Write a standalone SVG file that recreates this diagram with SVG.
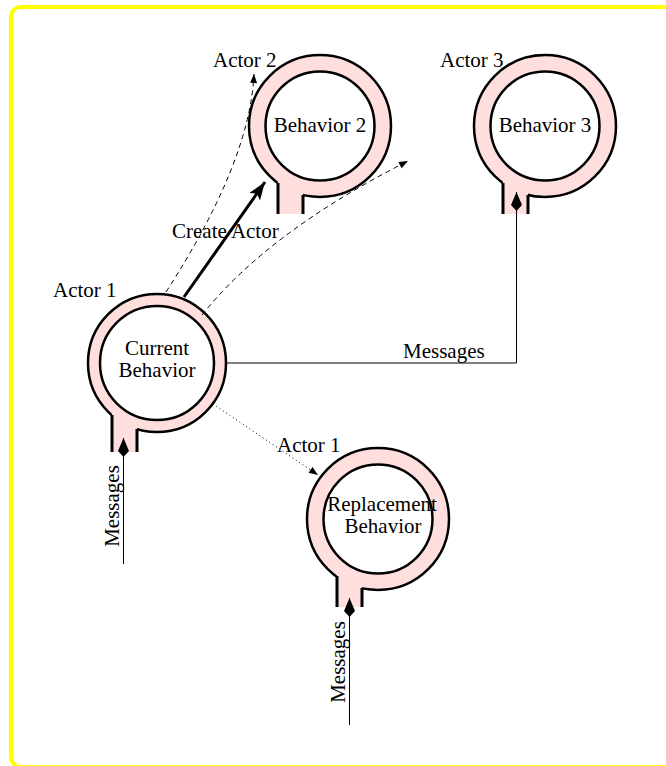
<svg xmlns="http://www.w3.org/2000/svg" width="666" height="766" viewBox="0 0 666 766">
  <style>
    .ring { fill: #ffdede; stroke: #000; stroke-width: 2.5; }
    .core { fill: #fff; stroke: #000; stroke-width: 2.5; }
    .stem { fill: #ffdede; stroke: none; }
    .side { stroke: #000; stroke-width: 3; fill: none; }
    .lbl { font-family: "Liberation Serif", "Times New Roman", serif; font-size: 21px; fill: #000; }
    .mid { text-anchor: middle; }
    .msg { fill: none; stroke: #000; stroke-width: 1; }
    .dash { fill: none; stroke: #000; stroke-width: 1; stroke-dasharray: 5 4; }
    .dot { fill: none; stroke: #000; stroke-width: 1; stroke-dasharray: 1 3; }
    .create { fill: none; stroke: #000; stroke-width: 3; }
  </style>
  <defs>
    <marker id="kite" markerUnits="userSpaceOnUse" markerWidth="24" markerHeight="14" viewBox="-20 -7 24 14" refX="0" refY="0" orient="auto">
      <path d="M0,0 L-13,-5.5 L-19,0 L-13,5.5 Z" fill="#000"/>
    </marker>
    <marker id="bold" markerUnits="userSpaceOnUse" markerWidth="22" markerHeight="16" viewBox="-20 -8 22 16" refX="0" refY="0" orient="auto">
      <path d="M0,0 L-18,-6.5 L-14,0 L-18,6.5 Z" fill="#000"/>
    </marker>
    <marker id="thin" markerUnits="userSpaceOnUse" markerWidth="12" markerHeight="10" viewBox="-11 -5 12 10" refX="0" refY="0" orient="auto">
      <path d="M0,0 L-9,-3.5 L-9,3.5 Z" fill="#000"/>
    </marker>
  </defs>

  <!-- frame -->
  <rect x="11" y="7" width="700" height="760" rx="10" fill="#fff" stroke="#ffff00" stroke-width="4"/>

  <!-- actor nodes: outer mailbox ring, stem, inner behaviour -->
  <g id="actor1-current" transform="translate(157,363)">
    <circle class="ring" r="69"/>
    <rect class="stem" x="-45" y="38" width="25" height="51"/>
    <path class="side" d="M-45,52 V89 M-20,66 V89"/>
    <circle class="core" r="57"/>
    <text class="lbl mid" x="0" y="-8">Current</text>
    <text class="lbl mid" x="0" y="14">Behavior</text>
    <text class="lbl" x="-104" y="-66">Actor 1</text>
  </g>

  <g id="actor2" transform="translate(320,126)">
    <circle class="ring" r="71"/>
    <rect class="stem" x="-42" y="38" width="25" height="50"/>
    <path class="side" d="M-42,57 V88 M-17,69 V88"/>
    <circle class="core" r="54.5"/>
    <text class="lbl mid" x="0" y="6">Behavior 2</text>
    <text class="lbl" x="-107" y="-59">Actor 2</text>
  </g>

  <g id="actor3" transform="translate(545,126)">
    <circle class="ring" r="71"/>
    <rect class="stem" x="-42" y="38" width="25" height="50"/>
    <path class="side" d="M-42,57 V88 M-17,69 V88"/>
    <circle class="core" r="54.5"/>
    <text class="lbl mid" x="0" y="6">Behavior 3</text>
    <text class="lbl" x="-105" y="-59">Actor 3</text>
  </g>

  <g id="actor1-replacement" transform="translate(378,519)">
    <circle class="ring" r="71"/>
    <rect class="stem" x="-41" y="38" width="25" height="50"/>
    <path class="side" d="M-41,57 V88 M-16,69 V88"/>
    <circle class="core" r="54.5"/>
    <text class="lbl mid" x="4" y="-8">Replacement</text>
    <text class="lbl mid" x="5" y="14">Behavior</text>
    <text class="lbl" x="-101" y="-67">Actor 1</text>
  </g>

  <!-- connectors -->
  <g id="connectors">
    <path class="msg" d="M123.5,564 V438" marker-end="url(#kite)"/>
    <path class="msg" d="M349.5,725 V598" marker-end="url(#kite)"/>
    <path class="msg" d="M226,363 H516.5 V192" marker-end="url(#kite)"/>
    <path class="create" d="M184,297 L265,182" marker-end="url(#bold)"/>
    <path class="dash" d="M166,292 Q250,162 254,74" marker-end="url(#thin)"/>
    <path class="dash" d="M202,315 Q268,232 408,161" marker-end="url(#thin)"/>
    <path class="dot" d="M213,404 L318,475" marker-end="url(#thin)"/>

    <text class="lbl" x="172" y="238">Create Actor</text>
    <text class="lbl" x="403" y="358">Messages</text>
    <text class="lbl mid" transform="translate(119,506) rotate(-90)">Messages</text>
    <text class="lbl mid" transform="translate(345,662) rotate(-90)">Messages</text>
  </g>
</svg>
